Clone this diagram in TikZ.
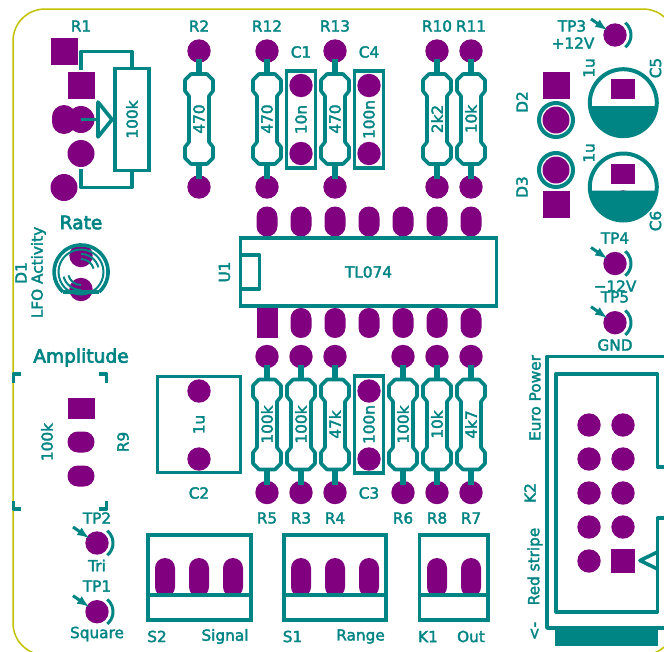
\documentclass[tikz,border=0pt]{standalone}
\usepackage{fontspec}
\setmainfont[FakeBold=2.2]{DejaVu Sans}
\newfontfamily\TitleFont[FakeBold=3.5]{DejaVu Sans}
\usepackage{tikz}
\usetikzlibrary{arrows,positioning}
\definecolor{SilkTeal}{RGB}{0,132,132}
\definecolor{PadPurple}{RGB}{128,0,128}
\definecolor{EdgeYellow}{RGB}{194,194,0}

\begin{document}
\begin{tikzpicture}[x=1pt,y=-1pt]
		\tikzstyle{Pad}		= [circle, fill=PadPurple, minimum size=23.4pt, inner sep=0pt]
		\tikzstyle{BigPad}	= [circle, fill=PadPurple, minimum size=27pt, inner sep=0pt]
		\tikzstyle{SquarePad}	= [rectangle, fill=PadPurple, minimum width=27pt, minimum height=27pt, inner sep=0pt]
		\tikzstyle{DipPad}	= [rectangle, rounded corners=10.4pt, fill=PadPurple, minimum width=21pt, minimum height=30pt, inner sep=0pt]
		\tikzstyle{SwitchPad}	= [rectangle, rounded corners=10pt, fill=PadPurple, minimum width=20pt, minimum height=39pt, inner sep=0pt]
		\tikzstyle{TrimPad}	= [rectangle, rounded corners=10.4pt, fill=PadPurple, minimum width=27pt, minimum height=21pt, inner sep=0pt]
		\tikzstyle{Silk}	= [draw=SilkTeal, line width=3.6pt, line join=round]
		\tikzstyle{Thin}	= [draw=SilkTeal, line width=2pt]
		\tikzstyle{Box}		= [rectangle, draw=SilkTeal, line width=3.6pt, text=SilkTeal, inner sep=0pt, font=\fontsize{15.3}{15}\selectfont]
		\tikzstyle{Label}	= [text=SilkTeal, inner sep=0pt, font=\fontsize{15.3}{15}\selectfont]
		\tikzstyle{Title}	= [text=SilkTeal, inner sep=0pt, font=\TitleFont\fontsize{18.6}{19}\selectfont]
		\tikzstyle{Stem}	= [draw=SilkTeal, line width=6pt]
		\tikzstyle{Probe}	= [draw=SilkTeal, line width=3pt, -latex]

		\useasboundingbox (0,0) rectangle (664,651);
		\clip (0,0) rectangle (664,651);
		\fill [white] (0,0) rectangle (664,651);

		% board edge
		\draw [EdgeYellow, line width=1.5pt, rounded corners=32pt] (13,9) rectangle (675,655);

		% pads
		\node (r1a) at (64,51.5) [SquarePad] {};
		\node (r1b) at (81,85.5) [SquarePad] {};
		\node (r1c) at (64,119.5) [DipPad, minimum width=24pt, minimum height=29pt, rounded corners=12pt] {};
		\node (r1d) at (81,119.5) [BigPad] {};
		\node (r1e) at (81,153.5) [BigPad] {};
		\node (r1f) at (64,187.5) [BigPad] {};

		\node (d1a) at (81,255.5) [Pad] {};
		\node (d1k) at (81,289.5) [Pad] {};

		\node (c1a) at (301,85.5) [Pad] {};
		\node (c1b) at (301,153.5) [Pad] {};
		\node (c4a) at (369,85.5) [Pad] {};
		\node (c4b) at (369,153.5) [Pad] {};
		\node (c3a) at (369,391) [Pad] {};
		\node (c3b) at (369,459) [Pad] {};
		\node (c2a) at (199,391) [Pad] {};
		\node (c2b) at (199,459) [Pad] {};

		\node (d2a) at (556,85.5) [SquarePad] {};
		\node (d2k) at (556,120) [BigPad] {};
		\node (d3k) at (556,170) [BigPad] {};
		\node (d3a) at (556,204.5) [SquarePad] {};

		\node (c5a) at (623,89) [SquarePad, minimum width=23.4pt, minimum height=20pt] {};
		\node (c5b) at (623,118) [Pad] {};
		\node (c6a) at (623,174) [SquarePad, minimum width=23.4pt, minimum height=20pt] {};
		\node (c6b) at (623,202) [Pad] {};

		\node (r9a) at (81,408) [SquarePad, minimum height=21pt] {};
		\node (r9b) at (81,442) [TrimPad] {};
		\node (r9c) at (81,476) [TrimPad] {};

		\foreach \x/\n in {267/1,301/2,335/3,369/4,403/5,437/6,471/7} {
			\node (u1top\n) at (\x,221.5) [DipPad] {};
		}
		\node (u1pin1) at (267,323) [SquarePad, minimum width=21pt, minimum height=30pt] {};
		\foreach \x/\n in {301/2,335/3,369/4,403/5,437/6,471/7} {
			\node (u1bot\n) at (\x,323) [DipPad] {};
		}

		\foreach \x/\n in {165/1,199/2,233/3} {
			\node (s2p\n) at (\x,577.5) [SwitchPad] {};
		}
		\foreach \x/\n in {301/1,335/2,369/3} {
			\node (s1p\n) at (\x,577.5) [SwitchPad] {};
		}
		\foreach \x/\n in {437/1,471/2} {
			\node (k1p\n) at (\x,577.5) [SwitchPad] {};
		}

		\foreach \y/\n in {425/1,459/2,493/3,527/4} {
			\node (k2a\n) at (589,\y) [Pad] {};
			\node (k2b\n) at (623,\y) [Pad] {};
		}
		\node (k2a5) at (589,561) [Pad] {};
		\node (k2b5) at (623,561) [SquarePad, minimum width=23.4pt, minimum height=23.4pt] {};

		% resistors
		\foreach \n/\x/\y/\v in {R2/199/119/470, R12/267/119/470, R13/335/119/470, R10/437/119/2k2, R11/471/119/10k,
				R5/267/424.5/100k, R3/301/424.5/100k, R4/335/424.5/47k, R6/403/424.5/100k, R8/437/424.5/10k, R7/471/424.5/4k7} {
			\node (\n a) at (\x,\y-68) [Pad] {};
			\node (\n b) at (\x,\y+68) [Pad] {};
			\coordinate (\n t) at (\x,\y-45);
			\coordinate (\n u) at (\x,\y+45);
			\draw [Stem, shorten <=8pt] (\n a.center) to (\n t);
			\draw [Stem, shorten <=8pt] (\n b.center) to (\n u);
			\draw [Silk, fill=white] (\x-8,\y-45) -- (\x+8,\y-45) -- (\x+14,\y-39) -- (\x+14,\y-28) -- (\x+10,\y-23)
				-- (\x+10,\y+23) -- (\x+14,\y+28) -- (\x+14,\y+39) -- (\x+8,\y+45) -- (\x-8,\y+45) -- (\x-14,\y+39)
				-- (\x-14,\y+28) -- (\x-10,\y+23) -- (\x-10,\y-23) -- (\x-14,\y-28) -- (\x-14,\y-39) -- cycle;
			\node (\n v) at (\x,\y) [Label, rotate=90] {\v};
		}

		% potentiometer R1
		\node (r1body) at (132,119.5) [Box, rotate=90, minimum width=102pt, minimum height=34pt] {100k};
		\coordinate (r1top) at (81,70);
		\coordinate (r1low) at (81,169);
		\coordinate (r1wip) at (98,119.5);
		\draw [Silk] (r1body.east) |- (81,51.5) -- (r1top);
		\draw [Silk] (r1body.west) |- (81,187.5) -- (r1low);
		\draw [Silk] (r1d.center) to (r1wip);
		\draw [Silk] (98,102) -- (112,119.5) -- (98,137) -- cycle;

		% caps
		\node (c1) at (301,119.5) [Box, rotate=90, minimum width=97pt, minimum height=29pt] {10n};
		\node (c4) at (369,119.5) [Box, rotate=90, minimum width=97pt, minimum height=29pt] {100n};
		\node (c3) at (369,424.5) [Box, rotate=90, minimum width=97pt, minimum height=29pt] {100n};
		\node (c2) at (199,424.5) [Box, rotate=90, minimum width=96pt, minimum height=83pt] {1u};

		% opamp
		\node (u1) at (368.5,272) [Box, minimum width=256pt, minimum height=68pt] {TL074};
		\draw [Silk] (241,255) -- (259.5,255) -- (259.5,289) -- (241,289);

		% LED D1
		\draw [Silk] (63,292) arc (132:408:27);
		\draw [Silk] (63,292) -- (99,292);
		\draw [Thin] (81,272) circle [radius=22.5];
		\draw [Thin] (81,254) arc (-90:-15:18);
		\draw [Thin] (81,259) arc (-90:-15:13);
		\draw [Thin] (81,290) arc (90:165:18);
		\draw [Thin] (81,285) arc (90:165:13);

		% power LEDs
		\draw [Silk, line width=4pt] (d2k) circle [radius=17];
		\draw [Silk, line width=4pt] (d3k) circle [radius=17];

		% electrolytics
		\fill [SilkTeal] (657,106) arc (5.6:174.4:34) -- cycle;
		\draw [Silk, line width=4pt] (623.3,102.7) circle [radius=33.5];
		\fill [SilkTeal] (657,190.5) arc (5.6:174.4:34) -- cycle;
		\draw [Silk, line width=4pt] (623.3,187) circle [radius=33.5];

		% test points
		\foreach \n/\x/\y in {tp1/97/611.7, tp2/97/543, tp3/615/35, tp4/615/263.5, tp5/615/322.7} {
			\node (\n) at (\x,\y) [Pad] {};
			\coordinate (\n s) at (\x-24,\y-16);
			\coordinate (\n e) at (\x-8,\y-5);
			\draw [Probe] (\n s) to (\n e);
			\draw [Silk, line width=3pt] (\x+10.3,\y-12.3) arc (-50:50:16);
		}

		% trimmer corners
		\draw [Silk] (21,374) -- (13.5,374) -- (13.5,383);
		\draw [Silk] (99,374) -- (106.5,374) -- (106.5,383);
		\draw [Silk] (13.5,501) -- (13.5,509) -- (21,509);
		\draw [Silk] (106.5,501) -- (106.5,509) -- (99,509);

		% switches
		\node (s2) at (199.2,577.5) [Box, minimum width=103pt, minimum height=85pt] {};
		\node (s1) at (335,577.5) [Box, minimum width=102pt, minimum height=85pt] {};
		\node (k1) at (453.7,577.5) [Box, minimum width=68.5pt, minimum height=85pt] {};
		\draw [Silk] (s2.west |- 0,595) -- (s2.east |- 0,595);
		\draw [Silk] (s1.west |- 0,595) -- (s1.east |- 0,595);
		\draw [Silk] (k1.west |- 0,595) -- (k1.east |- 0,595);

		% box header K2
		\draw [Silk] (680,356.5) -- (547,356.5) -- (547,628) -- (680,628);
		\draw [Silk] (680,467) -- (657.5,467) -- (657.5,374) -- (555.7,374) -- (555.7,611.7) -- (657.5,611.7) -- (657.5,518) -- (680,518);
		\draw [Silk] (657.5,552) -- (640,560.5) -- (657.5,569);
		\fill [SilkTeal] (555,628) rectangle (658,646);

		% texts
		\node (lr1) at (81,26) [Label] {R1};
		\node (lr2) at (199,26) [Label] {R2};
		\node (lr12) at (267,26) [Label] {R12};
		\node (lr13) at (335,26) [Label] {R13};
		\node (lr10) at (437,26) [Label] {R10};
		\node (lr11) at (471,26) [Label] {R11};
		\node (lc1) at (301,52) [Label] {C1};
		\node (lc4) at (369,52) [Label] {C4};
		\node (lc2) at (199,493) [Label] {C2};
		\node (lc3) at (369,493) [Label] {C3};
		\node (lr5) at (267,518) [Label] {R5};
		\node (lr3) at (301,518) [Label] {R3};
		\node (lr4) at (335,518) [Label] {R4};
		\node (lr6) at (403,518) [Label] {R6};
		\node (lr8) at (437,518) [Label] {R8};
		\node (lr7) at (471,518) [Label] {R7};

		\node (lrate) at (81,222.5) [Title] {Rate};
		\node (lamp) at (81,357.5) [Title] {Amplitude};
		\node (ld1) at (21,273) [Label, rotate=90] {D1};
		\node (lled) at (38.5,272.5) [Label, rotate=90] {LFO Activity};
		\node (lu1) at (224.5,272) [Label, rotate=90] {U1};
		\node (ld2) at (522,102) [Label, rotate=90] {D2};
		\node (ld3) at (522,187) [Label, rotate=90] {D3};
		\node (lv5) at (589,68) [Label, rotate=90] {1u};
		\node (lv6) at (589,153) [Label, rotate=90] {1u};
		\node (lc5) at (655.5,68) [Label, rotate=90] {C5};
		\node (lc6) at (655.5,221) [Label, rotate=90] {C6};
		\node (ltp3) at (572,26) [Label] {TP3};
		\node (lp12) at (573,43) [Label] {+12V};
		\node (ltp4) at (615,238) [Label] {TP4};
		\node (ln12) at (615,286) [Label] {−12V};
		\node (ltp5) at (615,297) [Label] {TP5};
		\node (lgnd) at (615,345) [Label] {GND};
		\node (lr9v) at (47,442) [Label, rotate=90] {100k};
		\node (lr9) at (123,442) [Label, rotate=90] {R9};
		\node (ltp2) at (97,518) [Label] {TP2};
		\node (ltri) at (97,565.5) [Label] {Tri};
		\node (ltp1) at (97,586) [Label] {TP1};
		\node (lsq) at (97,634) [Label] {Square};
		\node (ls2) at (157,636.5) [Label] {S2};
		\node (lsig) at (225,636.5) [Label] {Signal};
		\node (ls1) at (292.5,636.5) [Label] {S1};
		\node (lran) at (360.5,636.5) [Label] {Range};
		\node (lk1) at (428,636.5) [Label] {K1};
		\node (lout) at (471,636.5) [Label] {Out};
		\node (leuro) at (535,398) [Label, rotate=90] {Euro Power};
		\node (lk2) at (530,493) [Label, rotate=90] {K2};
		\node (lred) at (535,566.5) [Label, rotate=90] {Red stripe};
		\node (larr) at (535,631) [Label, rotate=90] {<-};
	\end{tikzpicture}
\end{document}
